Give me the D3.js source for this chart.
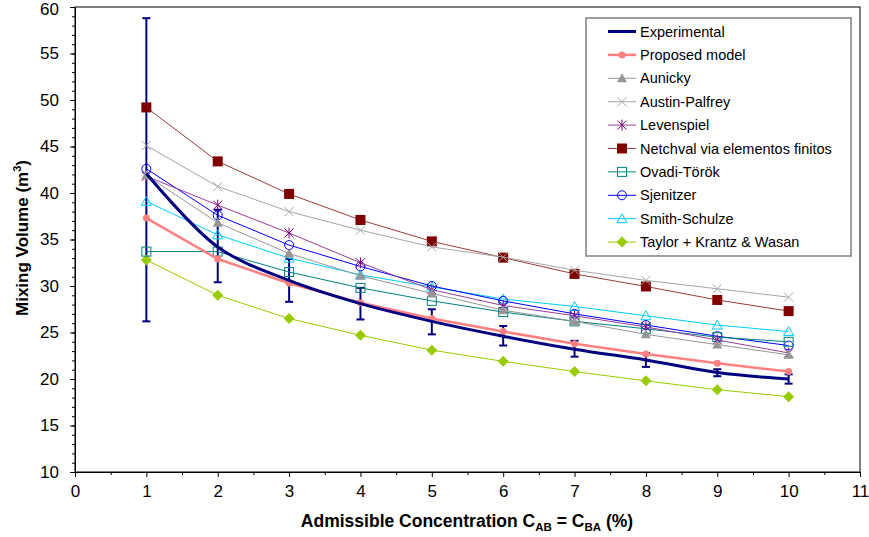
<!DOCTYPE html>
<html>
<head>
<meta charset="utf-8">
<script src="https://cdn.jsdelivr.net/npm/d3@7"></script>
<style>
  body { margin: 0; background: #fff; }
  text { font-family: "Liberation Sans", Arial, sans-serif; }
</style>
</head>
<body>
<div class="chart"></div>
<script>
const concentration = [1, 2, 3, 4, 5, 6, 7, 8, 9, 10];

const experimental = [42.1, 34.2, 30.6, 28.1, 26.2, 24.6, 23.2, 22.05, 20.7, 20.0];
const expLow =  [26.2, 30.4, 28.3, 26.4, 24.8, 23.6, 22.4, 21.3, 20.3, 19.5];
const expHigh = [58.8, 38.2, 32.9, 29.8, 27.5, 25.7, 24.1, 22.8, 21.05, 20.5];

const proposedModel = [37.3, 32.9, 30.3, 28.2, 26.5, 25.1, 23.8, 22.7, 21.7, 20.8];
const aunicky = [41.9, 36.8, 33.5, 31.1, 29.2, 27.4, 26.2, 24.8, 23.7, 22.6];
const austinPalfrey = [45.1, 40.7, 38.0, 36.0, 34.2, 33.1, 31.7, 30.6, 29.7, 28.8];
const levenspiel = [41.8, 38.7, 35.7, 32.5, 29.6, 27.9, 26.8, 25.6, 24.2, 22.8];
const netchval = [49.2, 43.4, 39.9, 37.1, 34.8, 33.05, 31.3, 29.95, 28.5, 27.3];
const ovadiTorok = [33.7, 33.7, 31.5, 29.8, 28.4, 27.2, 26.2, 25.4, 24.5, 24.0];
const sjenitzer = [42.6, 37.6, 34.4, 32.1, 30.0, 28.4, 27.0, 25.8, 24.6, 23.6];
const smithSchulze = [39.1, 35.5, 33.0, 31.2, 29.9, 28.6, 27.8, 26.8, 25.8, 25.1];
const taylorKrantz = [32.8, 29.0, 26.5, 24.7, 23.1, 21.9, 20.8, 19.8, 18.85, 18.1];

const xTicks = [0, 1, 2, 3, 4, 5, 6, 7, 8, 9, 10, 11];
const yTicks = [10, 15, 20, 25, 30, 35, 40, 45, 50, 55, 60];

const series = [
  { name: "Experimental", values: experimental, color: "#000080", width: 3, marker: null, smooth: true },
  { name: "Proposed model", values: proposedModel, color: "#FF8080", width: 2.5, marker: "dot" },
  { name: "Aunicky", values: aunicky, color: "#969696", width: 1, marker: "triangleFill" },
  { name: "Austin-Palfrey", values: austinPalfrey, color: "#A6A6A6", width: 1, marker: "x" },
  { name: "Levenspiel", values: levenspiel, color: "#800080", width: 1, marker: "star", lineColor: "#9B3F9B" },
  { name: "Netchval via elementos finitos", values: netchval, color: "#800000", width: 1, marker: "squareFill", lineColor: "#993C3C" },
  { name: "Ovadi-Török", values: ovadiTorok, color: "#008080", width: 1, marker: "square" },
  { name: "Sjenitzer", values: sjenitzer, color: "#0000FF", width: 1, marker: "circle" },
  { name: "Smith-Schulze", values: smithSchulze, color: "#00CCFF", width: 1, marker: "triangle" },
  { name: "Taylor + Krantz & Wasan", values: taylorKrantz, color: "#99CC00", width: 1, marker: "diamond" }
];

const W = 869, H = 537;
const svg = d3.select(".chart").append("svg")
  .attr("width", W).attr("height", H);

const x = d3.scaleLinear().domain([0, 11]).range([75, 860]);
const y = d3.scaleLinear().domain([10, 60]).range([472, 7]);

// plot area
svg.append("rect")
  .attr("x", x(0)).attr("y", y(60))
  .attr("width", x(11) - x(0)).attr("height", y(10) - y(60))
  .attr("fill", "#fff").attr("stroke", "#000").attr("stroke-width", 1);

// minor ticks
svg.append("g")
  .attr("transform", `translate(0,${y(10)})`)
  .call(d3.axisBottom(x).tickValues(d3.range(0.5, 11, 1)).tickSize(3).tickFormat(""))
  .call(g => g.select(".domain").remove());
svg.append("g")
  .attr("transform", `translate(${x(0)},0)`)
  .call(d3.axisLeft(y).tickValues(d3.range(10, 61, 1)).tickSize(3).tickFormat(""))
  .call(g => g.select(".domain").remove());

const xAxis = svg.append("g")
  .attr("transform", `translate(0,${y(10)})`)
  .call(d3.axisBottom(x).tickValues(xTicks).tickSize(5).tickSizeOuter(0).tickPadding(8));
const yAxis = svg.append("g")
  .attr("transform", `translate(${x(0)},0)`)
  .call(d3.axisLeft(y).tickValues(yTicks).tickSize(5).tickSizeOuter(0).tickPadding(11));

[xAxis, yAxis].forEach(a => {
  a.selectAll("text").attr("font-size", 17).attr("fill", "#000")
    .attr("font-family", "'Liberation Sans', Arial, sans-serif");
  a.select(".domain").attr("stroke", "#000");
});
svg.selectAll(".tick line").attr("stroke", "#000");
// keep the top label inside the picture
yAxis.selectAll(".tick text").filter(d => d === 60).attr("dy", "0.45em");

// axis titles
const xTitle = svg.append("text")
  .attr("x", 467).attr("y", 527)
  .attr("text-anchor", "middle")
  .attr("font-size", 17.5).attr("font-weight", "bold");
xTitle.append("tspan").text("Admissible Concentration C");
xTitle.append("tspan").attr("font-size", 11.5).attr("dy", 4).text("AB");
xTitle.append("tspan").attr("dy", -4).text(" = C");
xTitle.append("tspan").attr("font-size", 11.5).attr("dy", 4).text("BA");
xTitle.append("tspan").attr("dy", -4).text(" (%)");

const yTitle = svg.append("text")
  .attr("transform", "translate(28,238) rotate(-90)")
  .attr("text-anchor", "middle")
  .attr("font-size", 17).attr("font-weight", "bold");
yTitle.append("tspan").text("Mixing Volume (m");
yTitle.append("tspan").attr("font-size", 11).attr("dy", -7).text("3");
yTitle.append("tspan").attr("dy", 7).text(")");

// markers
function drawMarker(g, type, color) {
  switch (type) {
    case "dot":
      g.append("circle").attr("r", 3.5).attr("fill", color);
      break;
    case "triangleFill":
      g.append("path").attr("d", "M0,-5L5,4L-5,4Z").attr("fill", color);
      break;
    case "triangle":
      g.append("path").attr("d", "M0,-5L5,4L-5,4Z").attr("fill", "none").attr("stroke", color).attr("stroke-width", 1);
      break;
    case "x":
      g.append("path").attr("d", "M-4.5,-4.5L4.5,4.5M-4.5,4.5L4.5,-4.5").attr("stroke", color).attr("stroke-width", 1);
      break;
    case "star":
      g.append("path").attr("d", "M-4.5,-4.5L4.5,4.5M-4.5,4.5L4.5,-4.5M0,-5.5V5.5").attr("stroke", color).attr("stroke-width", 1);
      break;
    case "squareFill":
      g.append("rect").attr("x", -5).attr("y", -5).attr("width", 10).attr("height", 10).attr("fill", color);
      break;
    case "square":
      g.append("rect").attr("x", -4.5).attr("y", -4.5).attr("width", 9).attr("height", 9).attr("fill", "none").attr("stroke", color).attr("stroke-width", 1);
      break;
    case "circle":
      g.append("circle").attr("r", 4.5).attr("fill", "none").attr("stroke", color).attr("stroke-width", 1);
      break;
    case "diamond":
      g.append("path").attr("d", "M0,-5.5L5.5,0L0,5.5L-5.5,0Z").attr("fill", color);
      break;
  }
}

const plot = svg.append("g");

// error bars of experimental data
const err = plot.append("g");
concentration.forEach((c, i) => {
  err.append("line")
    .attr("x1", x(c)).attr("x2", x(c))
    .attr("y1", y(expLow[i])).attr("y2", y(expHigh[i]))
    .attr("stroke", "#000080").attr("stroke-width", 2);
  [expLow[i], expHigh[i]].forEach(v => {
    err.append("line")
      .attr("x1", x(c) - 4).attr("x2", x(c) + 4)
      .attr("y1", y(v)).attr("y2", y(v))
      .attr("stroke", "#000080").attr("stroke-width", 2);
  });
});

// draw series in reverse so Experimental stays on top
series.slice().reverse().forEach(s => {
  const line = d3.line()
    .x((d, i) => x(concentration[i]))
    .y(d => y(d))
    .curve(s.smooth ? d3.curveCatmullRom.alpha(0.5) : d3.curveLinear);
  plot.append("path")
    .datum(s.values)
    .attr("fill", "none")
    .attr("stroke", s.lineColor || s.color)
    .attr("stroke-width", s.width)
    .attr("d", line);
  if (s.marker) {
    s.values.forEach((v, i) => {
      const m = plot.append("g").attr("transform", `translate(${x(concentration[i])},${y(v)})`);
      drawMarker(m, s.marker, s.color);
    });
  }
});

// legend
const legend = svg.append("g").attr("transform", "translate(586,18)");
legend.append("rect")
  .attr("width", 265).attr("height", 238)
  .attr("fill", "#fff").attr("stroke", "#808080").attr("stroke-width", 1.5);

series.forEach((s, i) => {
  const row = legend.append("g").attr("transform", `translate(0,${13.5 + i * 23.4})`);
  row.append("line")
    .attr("x1", 22).attr("x2", 50)
    .attr("stroke", s.lineColor || s.color)
    .attr("stroke-width", s.width);
  if (s.marker) {
    const m = row.append("g").attr("transform", "translate(36,0)");
    drawMarker(m, s.marker, s.color);
  }
  row.append("text")
    .attr("x", 54).attr("dy", "0.35em")
    .attr("font-size", 14.5).attr("fill", "#000")
    .text(s.name);
});
</script>
</body>
</html>
